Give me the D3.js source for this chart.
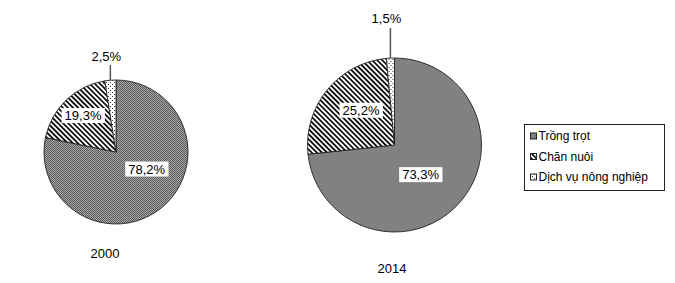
<!DOCTYPE html>
<html><head><meta charset="utf-8">
<script src="https://cdn.jsdelivr.net/npm/d3@7"></script>
<style>
html,body{margin:0;padding:0;background:#fff;}
svg{display:block;font-family:Arial,"Liberation Sans",sans-serif;}
</style></head>
<body>
<svg id="c" width="675" height="283"></svg>
<script>
// ---- data ----
const categories = ["Trồng trọt", "Chăn nuôi", "Dịch vụ nông nghiệp"];
const years = ["2000", "2014"];
const values2000 = [78.2, 19.3, 2.5];
const values2014 = [73.3, 25.2, 1.5];
const valueLabels2000 = ["78,2%", "19,3%", "2,5%"];
const valueLabels2014 = ["73,3%", "25,2%", "1,5%"];

// ---- layout ----
const svg = d3.select("#c");
const defs = svg.append("defs");

// pattern: Trồng trọt (fine checker)
const p1 = defs.append("pattern").attr("id","pat0").attr("patternUnits","userSpaceOnUse").attr("width",2).attr("height",2);
p1.append("rect").attr("width",2).attr("height",2).attr("fill","#a6a6a6");
p1.append("rect").attr("width",1).attr("height",1).attr("fill","#5c5c5c");
p1.append("rect").attr("x",1).attr("y",1).attr("width",1).attr("height",1).attr("fill","#5c5c5c");
// pattern: Chăn nuôi (diagonal stripes)
const p2 = defs.append("pattern").attr("id","pat1").attr("patternUnits","userSpaceOnUse").attr("width",3.6).attr("height",3.6).attr("patternTransform","rotate(-45)");
p2.append("rect").attr("width",3.6).attr("height",3.6).attr("fill","#fff");
p2.append("rect").attr("width",1.8).attr("height",3.6).attr("fill","#111");
// pattern: Dịch vụ (dots)
const p3 = defs.append("pattern").attr("id","pat2").attr("patternUnits","userSpaceOnUse").attr("width",4).attr("height",4);
p3.append("rect").attr("width",4).attr("height",4).attr("fill","#fff");
p3.append("rect").attr("x",0).attr("y",0).attr("width",1).attr("height",1).attr("fill","#333");
p3.append("rect").attr("x",2).attr("y",2).attr("width",1).attr("height",1).attr("fill","#333");

const fills = ["url(#pat0)","url(#pat1)","url(#pat2)"];

const pies = [
  {year: years[0], values: values2000, labels: valueLabels2000, cx: 116, cy: 152, r: 72, yearX: 105, yearY: 253,
   labelPos: [[0.426, 0.236], [-0.458, -0.507], null], outside: {y1: 65, ly: 56}},
  {year: years[1], values: values2014, labels: valueLabels2014, cx: 394.5, cy: 145, r: 87, yearX: 392, yearY: 268,
   labelPos: [[0.30, 0.34], [-0.385, -0.40], null], outside: {y1: 28, ly: 18}}
];

const pie = d3.pie().sort(null).value(d => d);

pies.forEach(p => {
  const g = svg.append("g").attr("transform", `translate(${p.cx},${p.cy})`);
  const arc = d3.arc().innerRadius(0).outerRadius(p.r);
  const arcs = pie(p.values);
  g.selectAll("path.slice").data(arcs).enter().append("path")
    .attr("class","slice")
    .attr("d", arc)
    .attr("fill", (d,i) => fills[i])
    .attr("stroke", "#222")
    .attr("stroke-width", 0.9);

  arcs.forEach((a, i) => {
    const txt = p.labels[i];
    if (p.labelPos[i]) {
      const lx = p.labelPos[i][0] * p.r, ly = p.labelPos[i][1] * p.r;
      const t = g.append("text").attr("x", lx).attr("y", ly).attr("dy","0.35em")
        .attr("text-anchor","middle").attr("font-size", 13).attr("fill","#000").text(txt);
      const bb = t.node().getBBox();
      g.insert("rect", () => t.node()).attr("x", bb.x - 3).attr("y", bb.y).attr("width", bb.width + 6).attr("height", bb.height)
        .attr("fill","#fff");
    } else {
      const mid = (a.startAngle + a.endAngle) / 2;
      const x0 = p.r * Math.sin(mid), y0 = -p.r * Math.cos(mid);
      g.append("line").attr("x1", x0).attr("y1", y0).attr("x2", x0).attr("y2", p.outside.y1 - p.cy)
        .attr("stroke","#555").attr("stroke-width",1.5);
      g.append("text").attr("x", x0 - 4).attr("y", p.outside.ly - p.cy).attr("dy","0.35em")
        .attr("text-anchor","middle").attr("font-size", 13).attr("fill","#000").text(txt);
    }
  });

  svg.append("text").attr("x", p.yearX).attr("y", p.yearY).attr("dy","0.35em")
    .attr("text-anchor","middle").attr("font-size", 13).attr("fill","#000").text(p.year);
});

// legend
const lg = svg.append("g");
lg.append("rect").attr("x", 524.5).attr("y", 124.5).attr("width", 140).attr("height", 66)
  .attr("fill","#fff").attr("stroke","#222").attr("stroke-width",1);
const rowY = d3.scalePoint().domain(categories).range([136, 177]);
categories.forEach((c, i) => {
  const y = rowY(c);
  lg.append("rect").attr("x", 530.5).attr("y", y - 3).attr("width", 6).attr("height", 6)
    .attr("fill", fills[i]).attr("stroke","#222").attr("stroke-width",1);
  lg.append("text").attr("x", 538.5).attr("y", y).attr("dy","0.35em").attr("font-size", 12)
    .attr("fill","#000").text(c);
});
</script>
</body></html>
